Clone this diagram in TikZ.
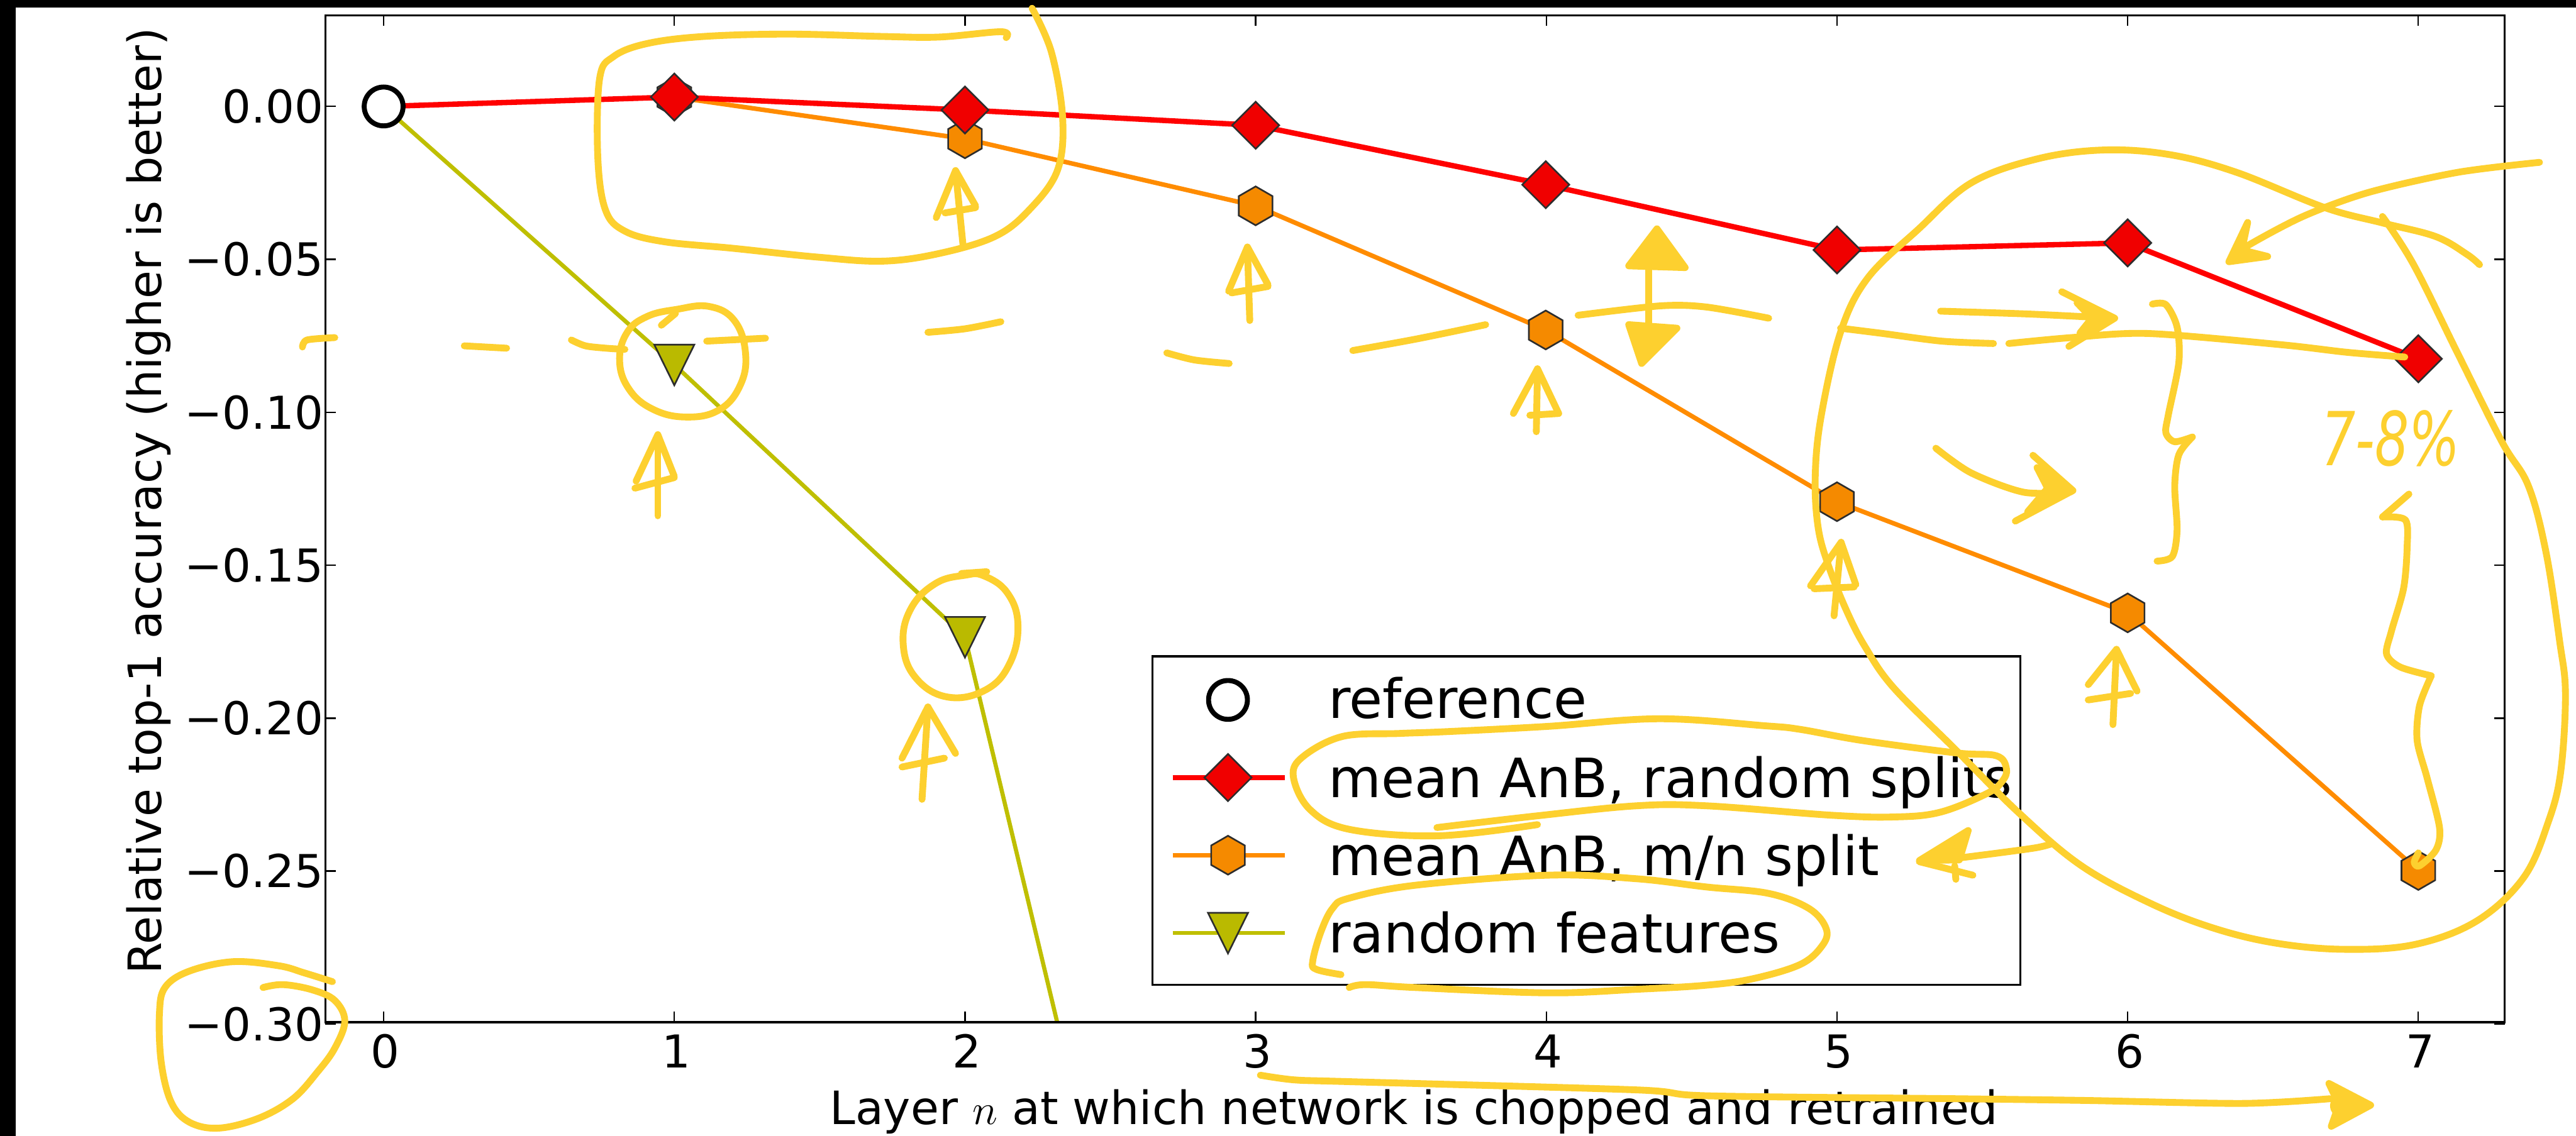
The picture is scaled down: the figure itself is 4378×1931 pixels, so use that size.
\documentclass[tikz,border=0pt]{standalone}
\usepackage{fontspec}
\setmainfont{DejaVu Sans}
\definecolor{annY}{RGB}{253,208,47}
\definecolor{lnRed}{RGB}{255,0,0}
\definecolor{mkRed}{RGB}{240,0,0}
\definecolor{lnOrange}{RGB}{255,140,0}
\definecolor{mkOrange}{RGB}{245,138,0}
\definecolor{lnOlive}{RGB}{191,191,0}
\definecolor{mkOlive}{RGB}{186,186,0}
\definecolor{mkEdge}{RGB}{45,45,45}
\newcommand{\tickfont}{\fontsize{21.9pt}{26pt}\selectfont}
\newcommand{\labfont}{\fontsize{22.2pt}{26pt}\selectfont}
\newcommand{\legfont}{\fontsize{26.2pt}{31pt}\selectfont}
\tikzset{
  ann/.style={draw=annY, line width=3.3pt, line cap=round, line join=round},
  annfill/.style={ann, fill=annY},
  serRed/.style={draw=lnRed, line width=2.6pt, line join=round},
  serOrange/.style={draw=lnOrange, line width=2.2pt, line join=round},
  serOlive/.style={draw=lnOlive, line width=2.0pt, line join=round},
  mkD/.style={fill=mkRed, draw=mkEdge, line width=0.8pt},
  mkH/.style={fill=mkOrange, draw=mkEdge, line width=0.8pt},
  mkV/.style={fill=mkOlive, draw=mkEdge, line width=0.8pt},
  refmk/.style={fill=white, draw=black, line width=2.4pt},
  spine/.style={draw=black, line width=1pt},
  tickln/.style={draw=black, line width=0.7pt},
  ticklbl/.style={inner sep=0pt, font=\tickfont},
  axlbl/.style={inner sep=0pt, font=\labfont},
  leglbl/.style={inner sep=0pt, anchor=base west, font=\legfont},
  legframe/.style={draw=black, line width=1pt, fill=white},
}
% plot markers (pixel units, y pointing down)
\newcommand{\mkDiam}[2]{\filldraw[mkD] (#1,#2) +(0,-40) -- +(40,0) -- +(0,40) -- +(-40,0) -- cycle;}
\newcommand{\mkHex}[2]{\filldraw[mkH] (#1,#2) +(0,-33) -- +(28.6,-16.5) -- +(28.6,16.5) -- +(0,33) -- +(-28.6,16.5) -- +(-28.6,-16.5) -- cycle;}
\newcommand{\mkTri}[2]{\filldraw[mkV] (#1,#2) +(-34,-34) -- +(34,-34) -- +(0,35) -- cycle;}
% hand-drawn up arrow: apex, shaft foot, left leg, right leg, crossbar
\newcommand{\handup}[6]{\draw[ann] #2 -- #1; \draw[ann] #3 -- #1 -- #4; \draw[ann] #5 -- #6;}
\begin{document}
\begin{tikzpicture}[x=0.01cm,y=-0.01cm]
\useasboundingbox (0,0) rectangle (4378,1931);
\fill[white] (0,0) rectangle (4378,1931);
\fill[black] (0,0) rectangle (4378,13);
\fill[black] (0,0) rectangle (27,1931);

% ---------- data series ----------
\begin{scope}
\clip (553,26) rectangle (4257,1738);
\draw[serOrange] (1146,165) -- (1640,236) -- (2134,350) -- (2627,561) -- (3122,853) -- (3616,1042) -- (4110,1480);
\foreach \px/\py in {1146/165,1640/236,2134/350,2627/561,3122/853,3616/1042,4110/1480}{\mkHex{\px}{\py}}
\draw[serRed] (652,181) -- (1146,165) -- (1640,187) -- (2134,213) -- (2627,314) -- (3122,425) -- (3616,413) -- (4110,610);
\foreach \px/\py in {1146/165,1640/187,2134/213,2627/314,3122/425,3616/413,4110/610}{\mkDiam{\px}{\py}}
\draw[serOlive] (652,181) -- (1146,620) -- (1640,1083) -- (2134,3148);
\mkTri{1146}{620}
\mkTri{1640}{1083}
\filldraw[refmk] (652,181) circle (0.33cm);
\end{scope}

% ---------- axes ----------
\draw[spine] (553,26) rectangle (4257,1738);
\foreach \i in {0,...,7}{
  \pgfmathsetmacro{\tx}{652+494*\i}
  \draw[tickln] (\tx,1738) -- (\tx,1720);
  \draw[tickln] (\tx,26) -- (\tx,44);
  \node[ticklbl, anchor=base] (xt\i) at (\tx+3,1815) {\i};
}
\foreach \j/\lab in {0/0.00,1/−0.05,2/−0.10,3/−0.15,4/−0.20,5/−0.25,6/−0.30}{
  \pgfmathsetmacro{\ty}{181+260*\j}
  \draw[tickln] (553,\ty) -- (571,\ty);
  \draw[tickln] (4257,\ty) -- (4239,\ty);
  \node[ticklbl, anchor=base east] (yt\j) at (550,\ty+28) {\lab};
}
\node[axlbl, rotate=90, anchor=base west] (ylab) at (274,1657) {Relative top-1 accuracy (higher is better)};
\node[axlbl, anchor=base] (xlab) at (2403,1912) {Layer $n$ at which network is chopped and retrained};

% ---------- legend ----------
\draw[legframe] (1959,1116) rectangle (3434,1674);
\filldraw[refmk] (2087,1190) circle (0.33cm);
\draw[serRed] (1993,1322) -- (2184,1322);
\mkDiam{2087}{1322}
\draw[serOrange] (1993,1454) -- (2184,1454);
\mkHex{2087}{1454}
\draw[serOlive] (1993,1586) -- (2184,1586);
\mkTri{2087}{1586}
\node[leglbl] (lg1) at (2257,1221) {reference};
\node[leglbl] (lg2) at (2257,1356) {mean AnB, random splits};
\node[leglbl] (lg3) at (2257,1488) {mean AnB, m/n split};
\node[leglbl] (lg4) at (2257,1620) {random features};

% ---------- yellow marker notes ----------
% loop over layers 1-2
\draw[ann] plot[smooth, tension=0.6] coordinates {(1710,64) (1701,54) (1596,63) (1500,62) (1340,58) (1196,62) (1100,74) (1043,96) (1019,134) (1016,268) (1029,357) (1062,393) (1129,411) (1244,422) (1388,437) (1500,444) (1596,431) (1691,402) (1749,357) (1797,290) (1806,201) (1787,89) (1754,14)};

% dashed guide line
\draw[ann] plot[smooth] coordinates {(514,590) (522,578) (569,574)};
\draw[ann] (789,588) -- (861,592);
\draw[ann] plot[smooth] coordinates {(971,578) (995,588) (1030,592) (1062,594)};
\draw[ann] (1201,580) -- (1301,575);
\draw[ann] plot[smooth] coordinates {(1577,565) (1640,559) (1701,547)};
\draw[ann] plot[smooth] coordinates {(1983,600) (2030,612) (2089,618)};
\draw[ann] plot[smooth] coordinates {(2299,596) (2409,576) (2525,552)};
\draw[ann] plot[smooth] coordinates {(2682,536) (2822,520) (2900,522) (3006,541)};
\draw[ann] plot[smooth] coordinates {(3128,558) (3200,567) (3300,580) (3388,584)};
\draw[ann] plot[smooth] coordinates {(3414,584) (3520,574) (3651,567) (3876,586) (3989,599) (4087,607)};

% double arrow between layer 4 markers
\draw[ann] (2802,453) -- (2802,565);
\filldraw[annfill] (2768,452) -- (2816,389) -- (2864,455) -- cycle;
\filldraw[annfill] (2768,552) -- (2790,618) -- (2850,558) -- cycle;

% up arrows under markers
\handup{(1624,290)}{(1637,420)}{(1591,370)}{(1658,350)}{(1606,362)}{(1658,353)}
\handup{(2120,420)}{(2124,545)}{(2088,495)}{(2155,484)}{(2093,498)}{(2155,487)}
\handup{(2613,627)}{(2611,734)}{(2572,703)}{(2649,703)}{(2600,706)}{(2649,703)}
\handup{(1118,739)}{(1118,877)}{(1081,818)}{(1146,810)}{(1079,830)}{(1146,812)}
\handup{(1577,1202)}{(1567,1359)}{(1533,1289)}{(1624,1281)}{(1533,1304)}{(1605,1289)}
\handup{(3129,922)}{(3117,1047)}{(3077,996)}{(3154,994)}{(3083,1001)}{(3151,998)}
\handup{(3597,1104)}{(3591,1232)}{(3549,1164)}{(3632,1175)}{(3549,1190)}{(3621,1179)}

% rings round the random-feature markers
\draw[ann] plot[smooth cycle, tension=0.7] coordinates {(1150,526) (1205,521) (1248,545) (1267,600) (1258,655) (1222,697) (1165,709) (1108,695) (1068,660) (1053,612) (1066,565) (1100,538)};
\draw[ann] (1124,553) -- (1148,533);
\draw[ann] plot[smooth cycle, tension=0.7] coordinates {(1640,978) (1590,992) (1548,1035) (1535,1095) (1556,1152) (1610,1185) (1675,1173) (1716,1128) (1730,1062) (1712,1008) (1672,979)};
\draw[ann] (1634,975) -- (1677,972);

% big loop over layers 5-7
\draw[ann] plot[smooth, tension=0.6] coordinates {(4049,368) (4102,450) (4177,601) (4252,751) (4297,826) (4327,939) (4350,1089) (4360,1179) (4352,1312) (4331,1397) (4289,1492) (4209,1566) (4103,1606) (3982,1614) (3865,1603) (3759,1577) (3653,1535) (3536,1471) (3430,1381) (3324,1275) (3218,1169) (3170,1100) (3139,1040) (3108,963) (3090,897) (3085,810) (3095,708) (3128,565) (3174,473) (3260,390) (3350,311) (3463,270) (3576,255) (3688,263) (3801,293) (3951,353) (4049,379) (4139,402) (4192,432) (4214,450)};

% arrow pointing at layer 6
\draw[ann] plot[smooth] coordinates {(4316,276) (4177,293) (4026,327) (3914,368) (3816,420) (3794,440)};
\filldraw[annfill] (3820,378) -- (3788,445) -- (3854,436) -- (3810,425) -- cycle;

% arrows between the two curves
\draw[ann] plot[smooth] coordinates {(3298,529) (3450,534) (3591,541)};
\draw[ann] (3504,496) -- (3594,541) -- (3516,589);
\filldraw[annfill] (3530,515) -- (3592,541) -- (3535,566) -- (3555,541) -- cycle;
\draw[ann] plot[smooth] coordinates {(3290,762) (3350,804) (3440,837) (3520,836)};
\draw[ann] (3455,774) -- (3523,834) -- (3425,886);
\filldraw[annfill] (3462,795) -- (3521,834) -- (3446,870) -- (3480,830) -- cycle;

% braces
\draw[ann] plot[smooth] coordinates {(3658,517) (3681,518) (3700,556) (3703,616) (3685,706) (3681,736) (3696,751) (3726,743)};
\draw[ann] plot[smooth] coordinates {(3726,743) (3703,773) (3696,826) (3700,901) (3692,946) (3666,954)};
\draw[ann] (4094,840) -- (4049,879);
\draw[ann] plot[smooth] coordinates {(4049,879) (4088,884) (4091,930) (4085,1000) (4064,1074) (4056,1112) (4079,1134) (4132,1149)};
\draw[ann] plot[smooth] coordinates {(4132,1149) (4112,1200) (4108,1259) (4125,1323) (4146,1407) (4140,1445) (4112,1472) (4103,1466) (4110,1450)};
\node[text=annY, inner sep=0pt, anchor=base west, xscale=0.72, font=\fontsize{36pt}{40pt}\selectfont\itshape] (gap) at (3945,792) {7-8\%};

% rings round legend entries
\draw[ann] plot[smooth, tension=0.6] coordinates {(2613,1402) (2445,1421) (2293,1410) (2226,1376) (2198,1320) (2215,1286) (2282,1252) (2378,1247) (2457,1244) (2630,1235) (2820,1222) (3000,1234) (3059,1240) (3165,1259) (3324,1280) (3393,1285) (3410,1307) (3403,1328) (3377,1349) (3297,1381) (3218,1389) (3112,1386) (2900,1370) (2781,1370) (2613,1387) (2442,1407)};
\draw[ann] plot[smooth, tension=0.6] coordinates {(2279,1657) (2237,1648) (2231,1634) (2245,1584) (2265,1544) (2293,1527) (2406,1505) (2630,1488) (2781,1494) (2900,1508) (3006,1519) (3075,1545) (3104,1580) (3096,1609) (3059,1640) (2979,1664) (2900,1675) (2781,1682) (2630,1688) (2406,1679) (2321,1674) (2293,1679)};

% arrow into the legend
\draw[ann] plot[smooth] coordinates {(3488,1434) (3456,1442) (3335,1458) (3290,1462)};
\filldraw[annfill] (3262,1463) -- (3345,1412) -- (3330,1462) -- cycle;
\draw[ann] (3262,1465) -- (3353,1488);
\draw[ann] (3322,1472) -- (3324,1495);

% ring round the lowest tick label
\draw[ann] plot[smooth, tension=0.6] coordinates {(565,1669) (517,1654) (474,1642) (396,1635) (322,1651) (281,1678) (271,1722) (274,1806) (291,1874) (322,1908) (372,1918) (440,1901) (498,1868) (540,1822) (569,1782) (586,1736) (569,1701) (531,1683) (481,1674) (447,1679)};

% long arrow along the x axis
\draw[ann] plot[smooth] coordinates {(2142,1828) (2200,1836) (2293,1839) (2781,1853) (2900,1863) (3324,1868) (3547,1871) (3812,1876) (3960,1868)};
\filldraw[annfill] (3958,1842) -- (4029,1879) -- (3962,1915) -- (3975,1878) -- cycle;
\fill[annY] (3980,1880) circle (0.2cm);
\end{tikzpicture}
\end{document}
